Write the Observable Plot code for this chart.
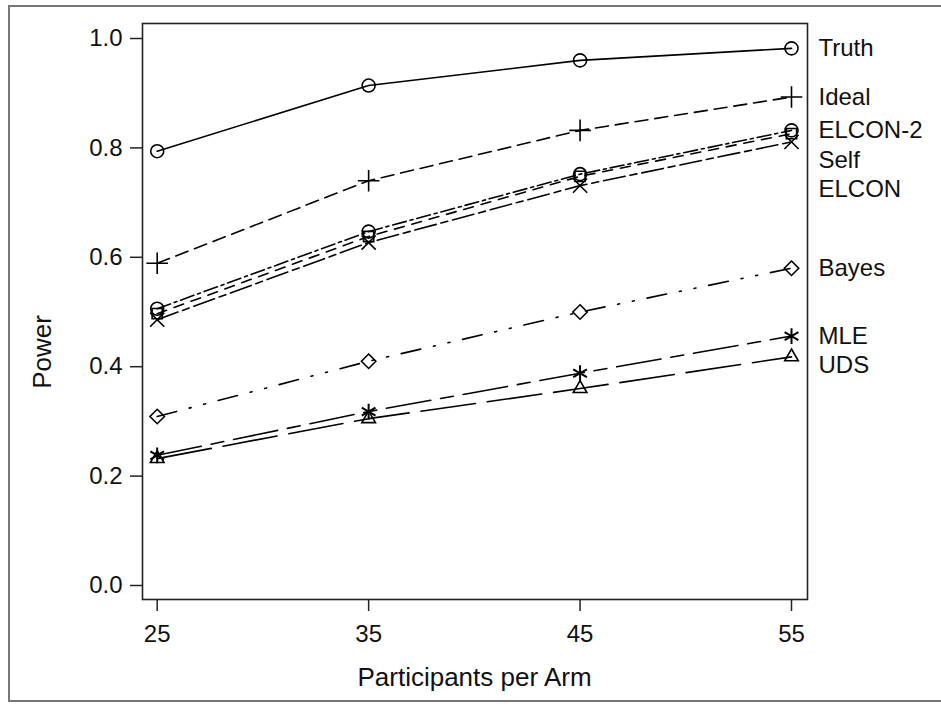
<!DOCTYPE html>
<html>
<head>
<meta charset="utf-8">
<script src="https://cdn.jsdelivr.net/npm/d3@7"></script>
<script src="https://cdn.jsdelivr.net/npm/@observablehq/plot@0.6"></script>
<style>
  html, body { margin: 0; padding: 0; background: white; }
  #wrap { position: relative; width: 941px; height: 710px; overflow: hidden; }
  #border { position: absolute; left: 8px; top: 5px; width: 945px; height: 697px; border: 2px solid #777; box-sizing: border-box; pointer-events: none; }
  #chart { position: absolute; left: 0; top: 0; }
</style>
</head>
<body>
<div id="wrap"><div id="chart"></div><div id="border"></div></div>
<script>
// ---- data ----
const participants = [25, 35, 45, 55];
const truth  = [0.794, 0.914, 0.960, 0.982];
const ideal  = [0.589, 0.740, 0.832, 0.893];
const elcon2 = [0.506, 0.647, 0.752, 0.832];
const self   = [0.497, 0.638, 0.748, 0.826];
const elcon  = [0.486, 0.627, 0.731, 0.811];
const bayes  = [0.309, 0.410, 0.500, 0.580];
const mle    = [0.238, 0.318, 0.388, 0.456];
const uds    = [0.232, 0.305, 0.360, 0.418];
const seriesNames = ["Truth", "Ideal", "ELCON-2", "Self", "ELCON", "Bayes", "MLE", "UDS"];
const yTicks = [0, 0.2, 0.4, 0.6, 0.8, 1.0];

// ---- styles per series ----
const seriesValues = [truth, ideal, elcon2, self, elcon, bayes, mle, uds];
const symbols = ["circle", "plus", "circle", "square2", "times", "diamond2", "asterisk", "triangle2"];
const symbolR = [6.5, 7, 6.5, 6.5, 6.5, 6.5, 7.5, 6.5];
const dashes = [null, "13,7", "14,4,3,4", "10,8", "22,5,7,5", "20,13,2,13,2,13", "45,10,13,10", "55,12"];

const series = seriesNames.map((name, i) => ({
  name, symbol: symbols[i], dash: dashes[i], r: symbolR[i],
  points: participants.map((p, j) => ({x: p, y: seriesValues[i][j], name}))
}));

// label positions: push down overlapping labels (top-down)
const gap = 0.054;
const ends = series.map(s => ({name: s.name, v: s.points[s.points.length - 1].y, x: participants[participants.length - 1]}))
  .sort((a, b) => b.v - a.v);
ends.forEach((d, i) => { d.ly = i === 0 ? d.v : Math.min(d.v, ends[i - 1].ly - gap); });

const ink = "#111";
const marks = [
  Plot.frame({stroke: "#222", strokeWidth: 1.6}),
  Plot.axisX({ticks: participants, tickSize: 12, tickPadding: 13, label: null, strokeWidth: 1.5, fontSize: 24, stroke: "#222"}),
  Plot.axisY({ticks: yTicks, tickFormat: d3.format(".1f"), tickSize: 12, tickPadding: 8, label: null, strokeWidth: 1.5, fontSize: 24, stroke: "#222"})
];
series.forEach(s => {
  marks.push(Plot.line(s.points, {x: "x", y: "y", stroke: "black", strokeWidth: 1.6, strokeDasharray: s.dash || undefined}));
  marks.push(Plot.dot(s.points, {x: "x", y: "y", symbol: () => s.symbol, r: s.r, stroke: "black", strokeWidth: s.symbol === "asterisk" ? 2 : 1.6, fill: "none"}));
});
marks.push(Plot.text(ends, {x: "x", y: "ly", text: "name", dx: 27, textAnchor: "start", fontSize: 24, fill: ink}));

const chart = Plot.plot({
  width: 941, height: 710,
  marginLeft: 142, marginRight: 134, marginTop: 23, marginBottom: 111,
  x: {domain: [25, 55], insetLeft: 14.7, insetRight: 16},
  y: {domain: [0, 1], insetTop: 15, insetBottom: 14},
  symbol: {type: "identity"},
  style: {fontFamily: "'Liberation Sans', Arial, sans-serif", fontSize: "24px", color: ink, background: "white"},
  marks
});

const svg = d3.select(chart);
svg.append("text").attr("x", 474.5).attr("y", 686).attr("text-anchor", "middle")
  .attr("font-size", 26).attr("fill", ink).text("Participants per Arm");
svg.append("text").attr("transform", "translate(51,352) rotate(-90)").attr("text-anchor", "middle")
  .attr("font-size", 26).attr("fill", ink).text("Power");

document.getElementById("chart").appendChild(chart);
</script>
</body>
</html>
